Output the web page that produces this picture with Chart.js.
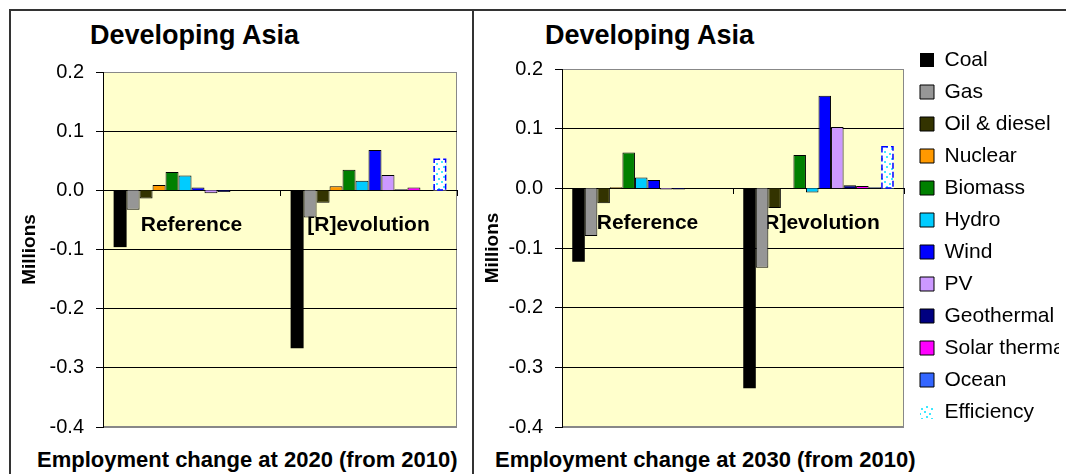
<!DOCTYPE html>
<html>
<head>
<meta charset="utf-8">
<script src="https://cdn.jsdelivr.net/npm/chart.js@4.4.0/dist/chart.umd.min.js"></script>
<style>
  body { margin: 0; width: 1066px; height: 474px; overflow: hidden; background: #fff; position: relative;
         font-family: "Liberation Sans", Arial, sans-serif; color: #000; }
  .panel { position: absolute; border: 2px solid #333; box-sizing: border-box; }
  .title { position: absolute; font-weight: bold; font-size: 27px; line-height: 28px; white-space: nowrap; }
  .xtitle { position: absolute; font-weight: bold; font-size: 22px; line-height: 26px; white-space: nowrap; }
  canvas { position: absolute; }
</style>
</head>
<body>
<div class="panel" style="left:9px;top:9px;width:465px;height:490px;"></div>
<div class="panel" style="left:472px;top:9px;width:700px;height:490px;"></div>

<div class="title" style="left:90px;top:21px;">Developing Asia</div>
<div class="title" style="left:545px;top:21px;">Developing Asia</div>
<div class="xtitle" style="left:37px;top:447px;">Employment change at 2020 (from 2010)</div>
<div class="xtitle" style="left:495px;top:447px;">Employment change at 2030 (from 2010)</div>

<canvas id="chart2020" width="462" height="464" style="left:10px;top:10px;"></canvas>
<canvas id="chart2030" width="600" height="464" style="left:473px;top:10px;"></canvas>

<script>
// categories and technologies
const categories = ["Reference", "[R]evolution"];
const technologies = ["Coal", "Gas", "Oil & diesel", "Nuclear", "Biomass", "Hydro",
  "Wind", "PV", "Geothermal", "Solar thermal", "Ocean", "Efficiency"];

// employment change, millions (order follows technologies)
const reference2020  = [-0.096, -0.033, -0.014, 0.009, 0.031, 0.025, 0.005, -0.005, -0.003, 0, 0, 0];
const revolution2020 = [-0.267, -0.046, -0.021, 0.007, 0.035, 0.016, 0.068, 0.026, 0.002, 0.005, 0, 0.054];
const reference2030  = [-0.123, -0.080, -0.025, 0.002, 0.060, 0.018, 0.014, -0.002, -0.002, 0, 0, 0];
const revolution2030 = [-0.335, -0.133, -0.033, 0, 0.056, -0.007, 0.155, 0.103, 0.005, 0.004, 0.002, 0.071];

const yTicks = { min: -0.4, max: 0.2, step: 0.1 };

const barColors = ["#000000", "#969696", "#333300", "#FF9900", "#008000", "#00CCFF",
  "#0000FF", "#CC99FF", "#000080", "#FF00FF", "#3366FF", null];

const FONT = "'Liberation Sans', Arial, sans-serif";

function dotPattern(ctx) {
  const tile = document.createElement("canvas");
  tile.width = 10; tile.height = 10;
  const g = tile.getContext("2d");
  g.fillStyle = "#fff";
  g.fillRect(0, 0, 10, 10);
  g.fillStyle = "#3ee8ff";
  g.fillRect(1, 1, 2, 2);
  g.fillRect(6, 3, 2, 2);
  g.fillRect(3, 6, 2, 2);
  g.fillRect(8, 8, 2, 2);
  return ctx.createPattern(tile, "repeat");
}

// yellow plot area with grey frame
const plotBg = {
  id: "plotBg",
  beforeDraw(chart) {
    const { ctx, chartArea: a } = chart;
    ctx.save();
    ctx.fillStyle = "#FFFFCC";
    ctx.fillRect(a.left, a.top, a.right - a.left, a.bottom - a.top);
    ctx.strokeStyle = "#888";
    ctx.lineWidth = 1;
    ctx.strokeRect(a.left + 0.5, a.top + 0.5, a.right - a.left - 1, a.bottom - a.top - 1);
    ctx.restore();
  }
};

// dashed blue outline on the efficiency bars
const dashedEfficiency = {
  id: "dashedEfficiency",
  afterDatasetsDraw(chart) {
    const meta = chart.getDatasetMeta(technologies.length - 1);
    const ctx = chart.ctx;
    ctx.save();
    ctx.strokeStyle = "#0000FF";
    ctx.lineWidth = 1.5;
    ctx.setLineDash([6, 3]);
    meta.data.forEach(bar => {
      const p = bar.getProps(["x", "y", "base", "width"], true);
      if (Math.abs(p.base - p.y) < 1) return;
      ctx.strokeRect(p.x - p.width / 2 + 0.75, Math.min(p.y, p.base) + 0.75,
        p.width - 1.5, Math.abs(p.base - p.y) - 1);
    });
    ctx.restore();
  }
};

// legend: one tall column, placed like the original
const legendSpot = {
  id: "legendSpot",
  afterLayout(chart) {
    const lg = chart.legend;
    if (!lg || !lg.options.display) return;
    lg.update(lg.width, 440, { left: 0, top: 0, right: 0, bottom: 0 });
    const w = lg.width, h = lg.height;
    lg.left = chart.chartArea.right + 5;
    lg.right = lg.left + w;
    lg.top = 28.5;
    lg.bottom = lg.top + h;
  }
};

function makeChart(id, refVals, revVals, opts) {
  const canvas = document.getElementById(id);
  const ctx = canvas.getContext("2d");
  const pattern = dotPattern(ctx);

  const datasets = technologies.map((name, i) => ({
    label: name,
    data: [refVals[i], revVals[i]],
    backgroundColor: barColors[i] || pattern,
    borderColor: i === technologies.length - 1 ? "#0000FF" : "#000",
    borderWidth: i === 0 || i === technologies.length - 1 ? 0 : 1,
    categoryPercentage: 0.88,
    barPercentage: 1
  }));

  return new Chart(ctx, {
    type: "bar",
    data: { labels: categories, datasets: datasets },
    options: {
      responsive: false,
      animation: false,
      devicePixelRatio: 1,
      events: [],
      layout: { padding: opts.padding },
      plugins: {
        tooltip: { enabled: false },
        title: { display: false },
        legend: {
          display: opts.legend,
          position: "right",
          align: "start",
          maxWidth: 150,
          labels: {
            color: "#000",
            font: { family: FONT, size: 21 },
            boxWidth: 14,
            boxHeight: 14,
            padding: 11
          }
        }
      },
      scales: {
        x: {
          position: { y: 0 },
          z: 1,
          ticks: { color: "#000", font: { family: FONT, size: 21, weight: "bold" }, padding: 17, maxRotation: 0 },
          grid: { drawOnChartArea: false, offset: true, tickLength: 5, color: "#000" },
          border: { color: "#000" }
        },
        y: {
          min: yTicks.min,
          max: yTicks.max,
          ticks: {
            stepSize: yTicks.step,
            padding: 12,
            color: "#000",
            font: { family: FONT, size: 20 },
            callback: v => (Math.abs(v) < 1e-9 ? 0 : v).toFixed(1)
          },
          grid: {
            color: c => (c.tick && (c.tick.value > 0.199 || c.tick.value < -0.399)) ? "#888" : "#000",
            tickColor: "#000",
            tickLength: 7
          },
          border: { color: "#000" },
          title: {
            display: true,
            text: "Millions",
            color: "#000",
            font: { family: FONT, size: 19, weight: "bold" },
            padding: { top: 8, bottom: 0 }
          },
          afterFit: s => { s.width = opts.yWidth; }
        }
      }
    },
    plugins: [plotBg, dashedEfficiency, legendSpot]
  });
}

makeChart("chart2020", reference2020, revolution2020,
  { legend: false, yWidth: 93, padding: { top: 62, bottom: 47, right: 15, left: 0 } });
makeChart("chart2030", reference2030, revolution2030,
  { legend: true, yWidth: 89, padding: { top: 59, bottom: 47, right: 19, left: 0 } });
</script>
</body>
</html>
